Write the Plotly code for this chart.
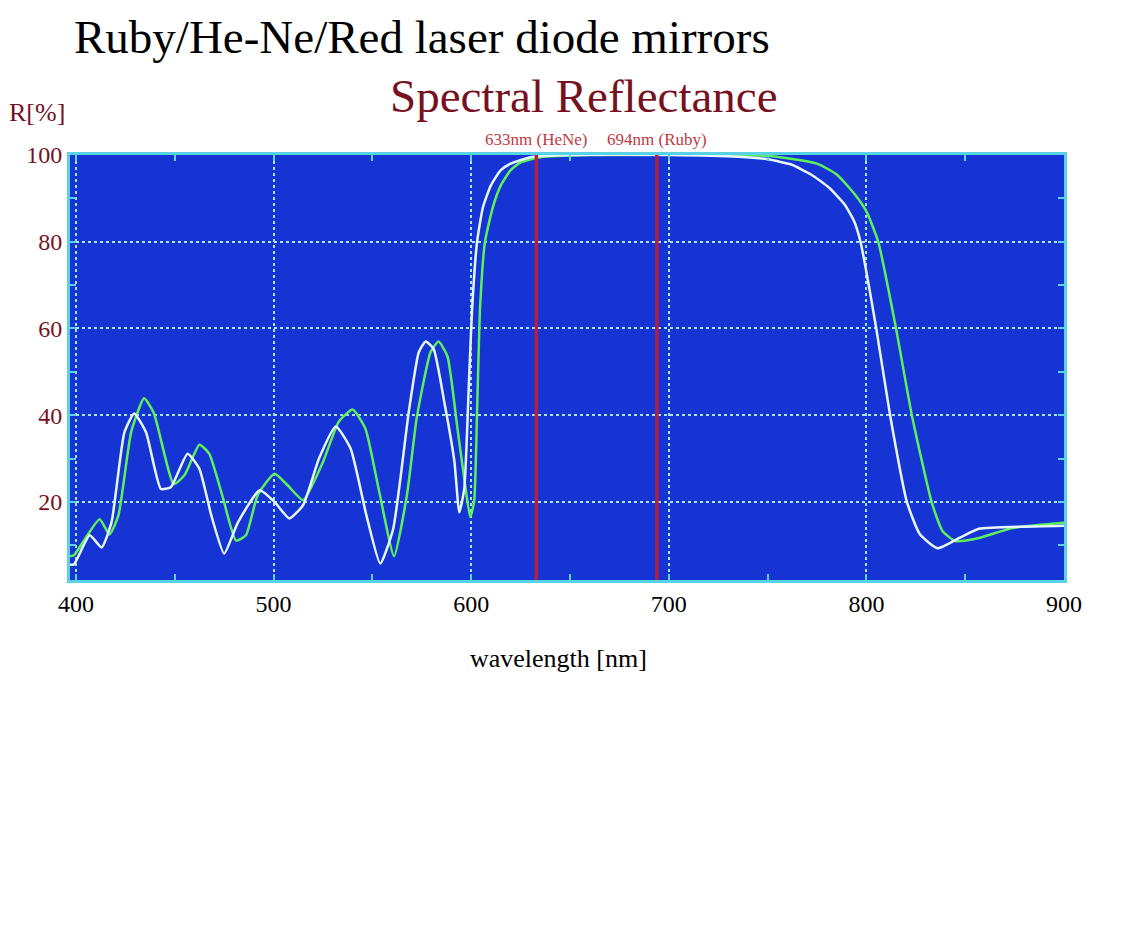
import plotly.graph_objects as go

# ---- data ----
wl_white = [397, 399, 407, 413, 418, 424.5, 429.5, 435.5, 443, 448,
            456.5, 462.5, 468.5, 475, 482, 493, 500.5, 508, 515, 523,
            531.5, 539, 547, 554, 560.5, 568.5, 573.5, 577, 581, 586.5,
            591.5, 594, 596.5, 599, 600.5, 603, 606, 610, 615, 620,
            630, 650, 700, 735, 750, 762, 772, 781, 789, 794, 797, 805, 812,
            820.5, 827, 836, 847, 857, 880, 900]
R_white = [5.5, 5.6, 12.3, 9.5, 15.3, 36, 40.4, 36, 23, 23.4,
           31.1, 27.6, 16.9, 8.1, 15.3, 22.7, 20, 16.2, 19.3, 30,
           37.4, 32.3, 16.9, 5.8, 13.7, 41, 54.5, 57, 55.3, 42.8,
           29.4, 17.6, 23, 49, 64.7, 80, 88, 93, 96.5, 98,
           99.5, 100, 100, 99.6, 99.0, 97.8, 95.5, 92.5, 88.6, 84.5, 80, 60, 40,
           20, 12.6, 9.3, 11.7, 13.8, 14.3, 14.5]

wl_green = [397, 399, 403.5, 412, 417, 421.5, 428, 434.5, 439.5, 449.5,
            455, 462.5, 467.5, 474, 481, 486, 492, 500.5, 507, 515,
            525, 533, 540, 546.5, 553.5, 561, 567.5, 572.5, 579.5, 583.5,
            588, 593, 596.5, 599.5, 601.5, 603, 604.5, 607, 611, 615,
            620, 625, 635, 660, 750, 775, 785, 794, 800, 806, 815, 823,
            833, 838.5, 845, 857, 874, 900]
R_green = [7.5, 7.7, 10.7, 16, 12.5, 16.9, 36.2, 43.9, 40.4, 24.1,
           26.2, 33.2, 31.1, 21.6, 11.1, 12.3, 21.6, 26.5, 23.9, 20.4,
           29.2, 38.5, 41.3, 36.9, 22.3, 7.5, 21.6, 39.5, 54.6, 57,
           53.6, 37.2, 25.4, 16.5, 20, 41, 64.7, 80, 88, 93,
           96.5, 98.3, 99.5, 100, 99.8, 98, 95.5, 91, 87, 80, 60, 40,
           20, 13.3, 11, 11.7, 14, 15.2]

laser_wl = [633, 694]
laser_labels = ["633nm (HeNe)", "694nm (Ruby)"]

x_ticks = [400, 500, 600, 700, 800, 900]
y_ticks = [20, 40, 60, 80, 100]

# ---- layout geometry (pixels) ----
W, H = 1142, 928
L, R, T, B = 70, 1142 - 1064, 155, 928 - 580
PW, PH = W - L - R, H - T - B


def px(x):
    return (x - L) / PW


def py(y):
    return (H - B - y) / PH


SERIF = "Liberation Serif, Times New Roman, serif"
MAROON = "#76121f"
BLUE = "#1633d4"
GRID = "#a6e4f7"
FRAME = "#5ad2e6"

fig = go.Figure()
fig.add_trace(go.Scatter(x=wl_green, y=R_green, mode="lines",
                         line=dict(color="#5ef05a", width=2.5, shape="spline", smoothing=0.5),
                         showlegend=False, hoverinfo="skip"))
fig.add_trace(go.Scatter(x=wl_white, y=R_white, mode="lines",
                         line=dict(color="#e4f7ff", width=2.5, shape="spline", smoothing=0.5),
                         showlegend=False, hoverinfo="skip"))

for wl in laser_wl:
    fig.add_shape(type="line", xref="x", yref="paper", x0=wl, x1=wl, y0=0, y1=1,
                  line=dict(color="#b3203f", width=3.5), layer="above")

annotations = []
for wl, lab in zip(laser_wl, laser_labels):
    annotations.append(dict(x=wl, xref="x", y=py(139), yref="paper", text=lab,
                            showarrow=False, xanchor="center", yanchor="middle",
                            font=dict(family=SERIF, size=17, color="#c0393f")))
annotations += [
    dict(x=px(72), y=py(37), xref="paper", yref="paper", text="Ruby/He-Ne/Red laser diode mirrors",
         showarrow=False, xanchor="left", yanchor="middle",
         font=dict(family=SERIF, size=47, color="black")),
    dict(x=px(388), y=py(96), xref="paper", yref="paper", text="Spectral Reflectance",
         showarrow=False, xanchor="left", yanchor="middle",
         font=dict(family=SERIF, size=47, color=MAROON)),
    dict(x=px(7), y=py(113), xref="paper", yref="paper", text="R[%]",
         showarrow=False, xanchor="left", yanchor="middle",
         font=dict(family=SERIF, size=26, color=MAROON)),
    dict(x=px(558), y=py(658), xref="paper", yref="paper", text="wavelength [nm]",
         showarrow=False, xanchor="center", yanchor="middle",
         font=dict(family=SERIF, size=26, color="black")),
]

fig.update_layout(
    width=W, height=H,
    margin=dict(l=L, r=R, t=T, b=B, autoexpand=False),
    paper_bgcolor="white", plot_bgcolor=BLUE,
    annotations=annotations,
    xaxis=dict(range=[397, 900], tickvals=x_ticks, ticktext=[str(v) for v in x_ticks],
               showgrid=True, gridcolor=GRID, griddash="dot", gridwidth=2,
               showline=True, linecolor=FRAME, linewidth=3, mirror="allticks",
               ticks="inside", ticklen=6, tickcolor=FRAME, tickwidth=2,
               minor=dict(dtick=50, tick0=400, ticks="inside", ticklen=6, tickcolor=FRAME,
                          tickwidth=2, showgrid=False),
               zeroline=False,
               tickfont=dict(family=SERIF, size=24, color="black")),
    yaxis=dict(range=[2, 100], tickvals=y_ticks, ticktext=[str(v) for v in y_ticks],
               showgrid=True, gridcolor=GRID, griddash="dot", gridwidth=2,
               showline=True, linecolor=FRAME, linewidth=3, mirror="allticks",
               ticks="inside", ticklen=6, tickcolor=FRAME, tickwidth=2,
               minor=dict(dtick=10, tick0=0, ticks="inside", ticklen=6, tickcolor=FRAME,
                          tickwidth=2, showgrid=False),
               zeroline=False,
               tickfont=dict(family=SERIF, size=24, color=MAROON)),
)

fig.write_html("out.html")
